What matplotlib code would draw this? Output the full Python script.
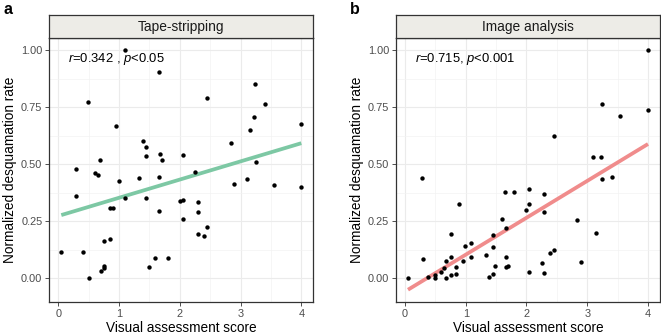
import numpy as np
import matplotlib
matplotlib.use('Agg')
import matplotlib.pyplot as plt
from matplotlib.ticker import MultipleLocator

plt.rcParams['font.family'] = ['Liberation Sans', 'DejaVu Sans']
plt.rcParams['mathtext.fontset'] = 'custom'
plt.rcParams['mathtext.rm'] = 'Liberation Sans'
plt.rcParams['mathtext.it'] = 'Liberation Sans:italic'

# panel a: tape-stripping (visual score, normalized desquamation rate)
tape_x = [1.10, 1.65, 0.49, 0.95, 1.39, 1.45, 1.45, 1.67, 1.70, 0.69, 2.05,
          0.30, 2.45, 2.84, 3.24, 3.40, 3.22, 3.15, 4.00, 3.25, 0.60, 0.65,
          1.00, 1.33, 1.66, 2.25, 0.30, 1.10, 1.45, 0.85, 0.90, 1.65, 2.00,
          2.05, 2.30, 2.30, 2.05, 2.30, 2.45, 2.40, 2.90, 3.10, 3.55, 4.00,
          0.05, 0.40, 0.75, 0.85, 0.50, 0.70, 0.75, 0.75, 1.50, 1.60, 1.80]
tape_y = [1.000, 0.905, 0.771, 0.665, 0.600, 0.574, 0.535, 0.544, 0.517, 0.518,
          0.539, 0.480, 0.790, 0.593, 0.853, 0.764, 0.706, 0.650, 0.675, 0.508,
          0.460, 0.451, 0.426, 0.439, 0.444, 0.466, 0.360, 0.351, 0.350, 0.307,
          0.307, 0.295, 0.338, 0.341, 0.333, 0.289, 0.261, 0.195, 0.223, 0.187,
          0.411, 0.435, 0.407, 0.398, 0.116, 0.116, 0.164, 0.170, 0.000, 0.032,
          0.054, 0.046, 0.051, 0.089, 0.088]

# panel b: image analysis
img_x = [0.28, 0.29, 0.05, 0.38, 0.49, 0.50, 0.59, 0.65, 0.68, 0.75, 0.75,
         0.68, 0.84, 0.84, 0.75, 0.89, 0.95, 0.99, 1.09, 1.09, 1.33, 1.39,
         1.45, 1.45, 1.45, 1.49, 1.59, 1.65, 1.79, 1.67, 1.66, 1.66, 1.69,
         1.99, 2.04, 2.04, 2.04, 2.29, 2.29, 2.25, 2.29, 2.39, 2.45, 2.83,
         2.90, 3.15, 3.24, 3.40, 4.00, 3.25, 3.54, 4.00, 2.45, 3.09, 3.22]
img_y = [0.441, 0.085, 0.000, 0.007, 0.000, 0.013, 0.028, 0.045, 0.076, 0.092,
         0.013, 0.000, 0.048, 0.019, 0.194, 0.327, 0.076, 0.140, 0.155, 0.093,
         0.101, 0.007, 0.019, 0.137, 0.190, 0.055, 0.260, 0.379, 0.379, 0.220,
         0.095, 0.047, 0.055, 0.300, 0.392, 0.327, 0.029, 0.368, 0.289, 0.066,
         0.023, 0.112, 0.123, 0.257, 0.073, 0.197, 0.434, 0.442, 1.000, 0.762,
         0.712, 0.737, 0.623, 0.531, 0.531]

titles = ['Tape-stripping', 'Image analysis']
labels = ['a', 'b']
stats_txt = [r'$\it{r}$=0.342 , $\it{p}$<0.05', r'$\it{r}$=0.715, $\it{p}$<0.001']
line_colors = ['#7DC8A4', '#F08C8C']

W, H = 661, 334
fig = plt.figure(figsize=(W/100, H/100), dpi=100)

panels = [(np.array(tape_x), np.array(tape_y)), (np.array(img_x), np.array(img_y))]

# linear fits
fits = []
for x, y in panels:
	k, b = np.polyfit(x, y, 1)
	xs = np.array([x.min(), x.max()])
	fits.append((xs, k*xs + b))

# shared y scale, ggplot-like 5% expansion
ylo = min(min(y.min(), fy.min()) for (x, y), (fx, fy) in zip(panels, fits))
yhi = max(max(y.max(), fy.max()) for (x, y), (fx, fy) in zip(panels, fits))
yr = yhi - ylo
xlo = min(x.min() for x, y in panels)
xhi = max(x.max() for x, y in panels)
xr = xhi - xlo

lefts = [49.3, 396]
pw = 264
top_strip, bot_strip, bot_plot = 15, 38, 301.7

for i, ((x, y), (fx, fy)) in enumerate(zip(panels, fits)):
	ax = fig.add_axes([lefts[i]/W, 1 - bot_plot/H, pw/W, (bot_plot - bot_strip)/H])
	ax.set_facecolor('white')
	ax.set_xlim(xlo - 0.05*xr, xhi + 0.05*xr)
	ax.set_ylim(ylo - 0.05*yr, yhi + 0.05*yr)
	ax.xaxis.set_major_locator(MultipleLocator(1))
	ax.xaxis.set_minor_locator(MultipleLocator(0.5))
	ax.yaxis.set_major_locator(MultipleLocator(0.25))
	ax.yaxis.set_minor_locator(MultipleLocator(0.125))
	ax.yaxis.set_major_formatter(lambda v, p: f'{v:.2f}')
	ax.grid(True, which='major', color='#EBEBEB', linewidth=0.8, zorder=0)
	ax.grid(True, which='minor', color='#F2F2F2', linewidth=0.45, zorder=0)
	ax.set_axisbelow(True)
	ax.tick_params(which='major', length=2.75, width=0.6, color='#333333',
		labelcolor='#4D4D4D', labelsize=7.9, pad=2.2)
	ax.tick_params(which='minor', length=0)
	for s in ax.spines.values():
		s.set_color('#333333')
		s.set_linewidth(0.9)

	ax.plot(fx, fy, color=line_colors[i], linewidth=2.7, solid_capstyle='butt', zorder=2)
	ax.scatter(x, y, s=10, color='black', linewidths=0, zorder=3)
	ax.text(0.16, 0.96, stats_txt[i], fontsize=9.4, ha='left', va='center')

	ax.set_xlabel('Visual assessment score', fontsize=9.8, labelpad=2)
	ax.set_ylabel('Normalized desquamation rate', fontsize=9.8, labelpad=3)

	# facet strip
	st = fig.add_axes([lefts[i]/W, 1 - bot_strip/H, pw/W, (bot_strip - top_strip)/H])
	st.set_facecolor('#EDECE7')
	st.set_xticks([])
	st.set_yticks([])
	for s in st.spines.values():
		s.set_color('#333333')
		s.set_linewidth(0.9)
	st.text(0.5, 0.5, titles[i], fontsize=9.9, ha='center', va='center',
		color='#1A1A1A', transform=st.transAxes)

	fig.text((lefts[i] - 46)/W, 1 - 10/H, labels[i], fontsize=11.5,
		fontweight='bold', ha='left', va='center')

fig.savefig('out.png', dpi=100, facecolor='white')
